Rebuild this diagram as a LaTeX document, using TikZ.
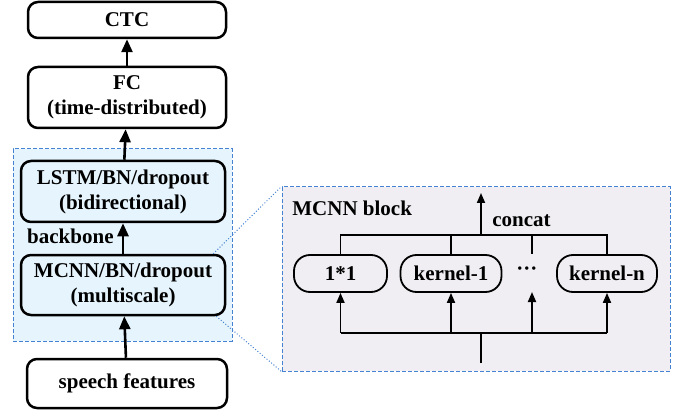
\documentclass[tikz,border=0pt]{standalone}
\usepackage{fontspec}
\setmainfont{Liberation Serif}
\usetikzlibrary{arrows.meta,calc}

\definecolor{bbfill}{RGB}{230,245,253}
\definecolor{blkfill}{RGB}{240,238,243}
\definecolor{dashblue}{RGB}{70,130,210}

\tikzset{
    layer/.style={draw, line width=1.25pt, rounded corners=5pt, align=center,
        minimum width=99pt, inner sep=2pt},
    branch/.style={draw, line width=0.9pt, rounded corners=8pt,
        minimum height=18.5pt, inner sep=2pt},
    zone/.style={draw=dashblue, dash pattern=on 2pt off 1pt, line width=0.5pt},
    flow/.style={line width=1.3pt, -{Triangle[length=6.5pt,width=5.5pt]}},
    subflow/.style={line width=0.9pt, -{Triangle[length=5pt,width=4pt]}},
    wire/.style={line width=0.9pt}
}

\begin{document}
\begin{tikzpicture}[x=0.5pt, y=-0.5pt, font=\fontsize{10.5}{12.5}\selectfont\bfseries]
    \useasboundingbox (0,0) rectangle (686,417);

    % Draw the backbone area and the block area
    \node[zone, fill=bbfill, minimum width=109.5pt, minimum height=96pt] (bb) at (122.5,245) {};
    \node[zone, fill=blkfill, minimum width=194pt, minimum height=92pt] (blk) at (476,279) {};

    % Layers of the network
    \node[layer, minimum height=18pt] (ctc) at (127,20) {CTC};
    \node[layer, minimum height=30.5pt] (fc) at (127,97.5) {FC\\(time-distributed)};
    \node[layer, minimum width=102pt, minimum height=30.5pt, fill=bbfill] (lstm) at (123,191.5) {LSTM/BN/dropout\\(bidirectional)};
    \node[layer, minimum width=102pt, minimum height=30pt, fill=bbfill] (mcnn) at (123,285) {MCNN/BN/dropout\\(multiscale)};
    \node[layer, minimum width=100pt, minimum height=24.5pt] (speech) at (127,383.5) {speech features};
    \node[anchor=east, inner sep=0pt] (bblabel) at (114,236) {backbone};

    % Arrows between layers
    \draw[flow] (speech) -- (mcnn);
    \draw[flow] (mcnn) -- (lstm);
    \draw[flow] (lstm) -- (fc);
    \draw[flow] (fc) -- (ctc);

    % Zoom lines
    \draw[dashblue, densely dotted, line width=0.5pt] ($(mcnn.north east)+(-13,0)$) -- (blk.north west);
    \draw[dashblue, densely dotted, line width=0.5pt] ($(mcnn.south east)+(-10,0)$) -- (blk.south west);

    % Inside the MCNN block
    \node[anchor=west, inner sep=0pt] (blklabel) at (292,208) {MCNN block};
    \node[branch, minimum width=46.5pt] (one) at (340.5,273.5) {1*1};
    \node[branch, minimum width=50.5pt] (k1) at (451,273.5) {kernel-1};
    \node[inner sep=0pt] (dots) at (527,271) {···};
    \node[branch, minimum width=50pt] (kn) at (607,273.5) {kernel-n};
    \node[anchor=west, inner sep=0pt] (concat) at (492,221) {concat};

    \coordinate (tb) at (481,235);
    \coordinate (out) at (481,193);
    \coordinate (dtop) at (532,254);
    \coordinate (dbot) at (532,292);
    \coordinate (lb) at (481,333);
    \coordinate (in) at (481,363);

    % Concatenation bus
    \draw[wire] (one.north) -- (one.north |- tb) -- (kn.north |- tb) -- (kn.north);
    \draw[wire] (k1.north) -- (k1.north |- tb);
    \draw[wire] (dtop) -- (dtop |- tb);
    \draw[subflow] (tb) -- (out);

    % Input bus
    \draw[wire] (in) -- (lb);
    \draw[wire] (one.south |- lb) -- (kn.south |- lb);
    \draw[subflow] (one.south |- lb) -- (one.south);
    \draw[subflow] (k1.south |- lb) -- (k1.south);
    \draw[subflow] (dbot |- lb) -- (dbot);
    \draw[subflow] (kn.south |- lb) -- (kn.south);

\end{tikzpicture}
\end{document}
